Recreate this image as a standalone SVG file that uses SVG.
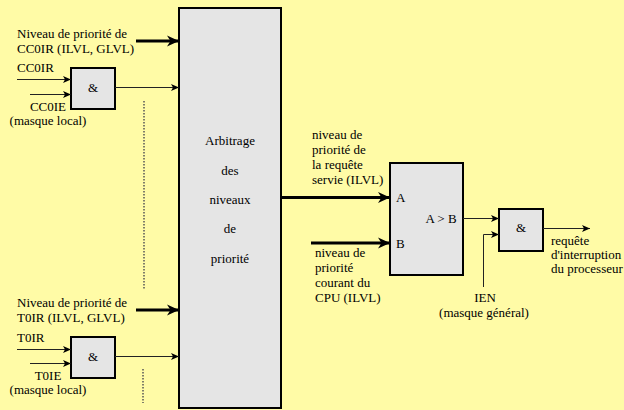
<svg xmlns="http://www.w3.org/2000/svg" width="624" height="410" viewBox="0 0 624 410">
<defs>
<style>
.box{fill:#e5e5e5;stroke:#000;stroke-width:2}
.thick{stroke:#000;stroke-width:3;fill:none;marker-end:url(#big)}
.thin{stroke:#222;stroke-width:1;fill:none;marker-end:url(#small)}
.dots{stroke:#555;stroke-width:1.5;stroke-dasharray:1.5 1.5;fill:none}
.mid{text-anchor:middle}
</style>
<marker id="big" markerUnits="userSpaceOnUse" viewBox="0 0 12 12" refX="12" refY="6" markerWidth="12" markerHeight="12" orient="auto">
<path d="M0,0.5 L12,6 L0,11.5 L3.5,6 z" fill="#000"/>
</marker>
<marker id="small" markerUnits="userSpaceOnUse" viewBox="0 0 8 8" refX="8" refY="4" markerWidth="8" markerHeight="8" orient="auto">
<path d="M0,0.5 L8,4 L0,7.5 L2,4 z" fill="#000"/>
</marker>
</defs>
<rect width="624" height="410" fill="#fffba6"/>

<g font-family="Liberation Serif" font-size="13" fill="#000">
<g id="arbitrage">
<rect class="box" x="179" y="8" width="102" height="400"/>
<text class="mid" x="230" y="145">Arbitrage</text>
<text class="mid" x="230" y="175">des</text>
<text class="mid" x="230" y="204">niveaux</text>
<text class="mid" x="230" y="233">de</text>
<text class="mid" x="230" y="263">priorité</text>
</g>

<g id="and-cc0">
<rect class="box" x="71" y="68" width="44" height="41"/>
<text class="mid" x="93" y="92">&amp;</text>
</g>

<g id="and-t0">
<rect class="box" x="71" y="337" width="44" height="41"/>
<text class="mid" x="93" y="361">&amp;</text>
</g>

<g id="comparateur">
<rect class="box" x="390" y="163" width="73" height="112"/>
<text x="396" y="202">A</text>
<text x="396" y="248">B</text>
<text class="mid" x="441" y="223">A &gt; B</text>
</g>

<g id="and-ien">
<rect class="box" x="499" y="209" width="44" height="42"/>
<text class="mid" x="521" y="232">&amp;</text>
</g>

<g id="labels">
<text x="17" y="38">Niveau de priorité de</text>
<text x="17" y="53">CC0IR (ILVL, GLVL)</text>
<text x="17" y="72">CC0IR</text>
<text class="mid" x="48" y="111">CC0IE</text>
<text class="mid" x="48" y="125">(masque local)</text>
<text x="17" y="307">Niveau de priorité de</text>
<text x="17" y="322">T0IR (ILVL, GLVL)</text>
<text x="17" y="342">T0IR</text>
<text class="mid" x="48" y="380">T0IE</text>
<text class="mid" x="48" y="394">(masque local)</text>
<text x="312" y="139">niveau de</text>
<text x="312" y="154">priorité de</text>
<text x="312" y="169">la requête</text>
<text x="312" y="184">servie (ILVL)</text>
<text x="315" y="257">niveau de</text>
<text x="315" y="272">priorité</text>
<text x="315" y="287">courant du</text>
<text x="315" y="302">CPU (ILVL)</text>
<text class="mid" x="485" y="302">IEN</text>
<text class="mid" x="484" y="317">(masque général)</text>
<text x="551" y="245">requête</text>
<text x="551" y="259">d'interruption</text>
<text x="551" y="273">du processeur</text>
</g>
</g>

<g id="connectors">
<line class="thick" x1="136" y1="41" x2="179" y2="41"/>
<line class="thin" x1="17" y1="79.5" x2="71" y2="79.5"/>
<line class="thin" x1="30" y1="94.5" x2="71" y2="94.5"/>
<line class="thin" x1="115" y1="87.5" x2="179" y2="87.5"/>
<line class="thick" x1="136" y1="310" x2="179" y2="310"/>
<line class="thin" x1="17" y1="349.5" x2="71" y2="349.5"/>
<line class="thin" x1="30" y1="363.5" x2="71" y2="363.5"/>
<line class="thin" x1="115" y1="356.5" x2="179" y2="356.5"/>
<line class="dots" x1="144" y1="101" x2="144" y2="290"/>
<line class="dots" x1="143" y1="369" x2="143" y2="403"/>
<line class="thick" x1="281" y1="197.5" x2="390" y2="197.5"/>
<line class="thick" x1="311" y1="243" x2="390" y2="243"/>
<line class="thin" x1="463" y1="218.5" x2="499" y2="218.5"/>
<path class="thin" d="M483.5,287 V234.5 H499"/>
<line class="thin" x1="543" y1="228.5" x2="590" y2="228.5"/>
</g>
</svg>
